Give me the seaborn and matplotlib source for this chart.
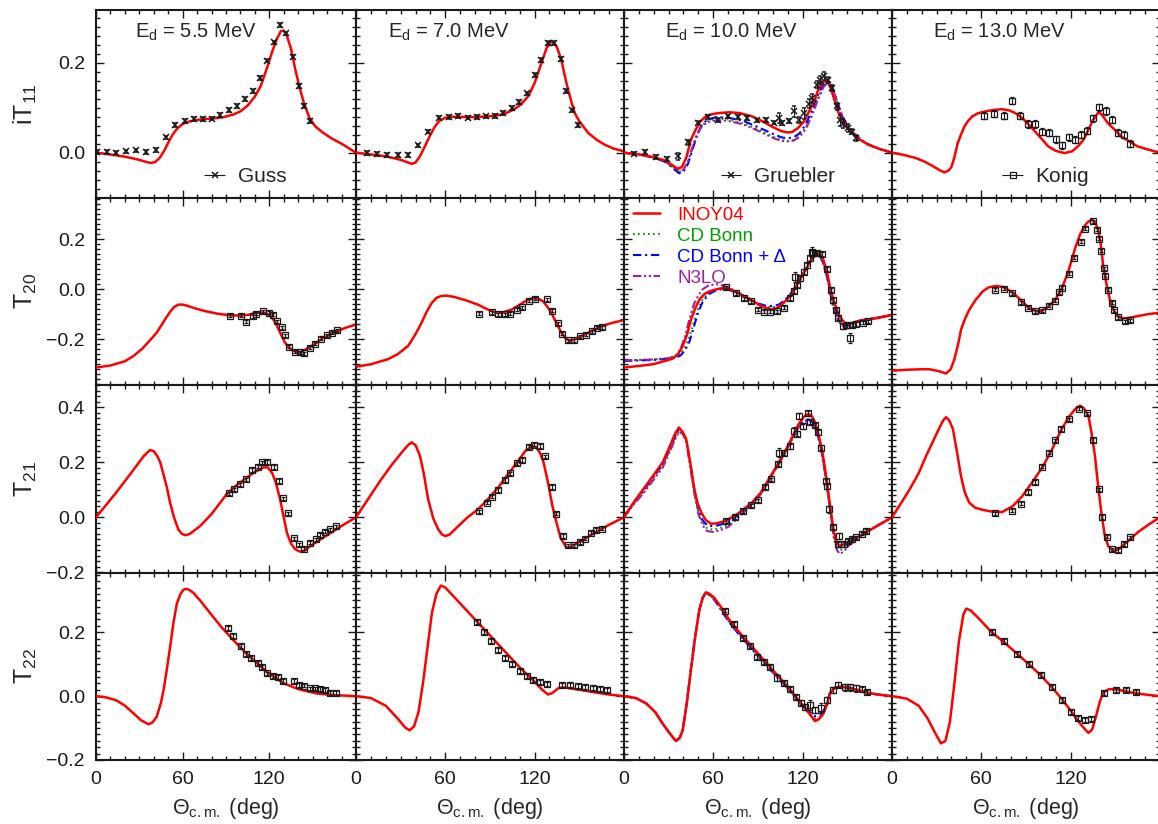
import numpy as np
import pandas as pd
import seaborn as sns
import matplotlib.pyplot as plt
from matplotlib.ticker import MultipleLocator

# ---------------- iT11 ----------------
it11_55_ang = [0, 10, 20, 30, 35, 38, 41, 44, 47, 50, 53, 56, 60, 65, 72, 80, 88, 95, 100, 105,
               110, 114, 118, 122, 125, 128, 130, 132, 135, 138, 141, 144, 148, 152, 157, 163, 170, 180]
it11_55_inoy = [0.0, -0.004, -0.009, -0.016, -0.021, -0.023, -0.021, -0.012, 0.003, 0.022, 0.040, 0.053,
                0.064, 0.070, 0.074, 0.076, 0.079, 0.085, 0.092, 0.105, 0.125, 0.148, 0.185, 0.225, 0.252,
                0.271, 0.272, 0.262, 0.232, 0.185, 0.145, 0.110, 0.076, 0.058, 0.045, 0.032, 0.020, 0.0]
it11_55_exp_ang = [0.5, 7.4, 13.9, 20.8, 27.7, 34.7, 41.4, 48.3, 54.8, 61.7, 68.0, 74.0, 80.2, 86.2,
                   92.0, 97.8, 103.3, 108.4, 113.5, 118.4, 123.0, 127.6, 131.8, 136.1, 140.3, 144.0, 148.4]
it11_55_exp_val = [0.001, 0.001, 0.0, 0.003, 0.005, 0.002, 0.006, 0.034, 0.061, 0.070, 0.075, 0.075, 0.076,
                   0.084, 0.095, 0.104, 0.119, 0.138, 0.166, 0.205, 0.246, 0.284, 0.266, 0.214, 0.149, 0.104, 0.070]
it11_55_exp_err = [0.004] * 27

it11_70_ang = [0, 10, 20, 30, 35, 37.5, 40, 43, 46, 50, 53, 56, 60, 65, 78, 90, 95, 100, 106, 111,
               116, 120, 124.5, 128, 131, 133, 135, 138, 140, 142.5, 145, 147, 150, 156, 162, 167, 173, 180]
it11_70_inoy = [0.0, -0.004, -0.008, -0.016, -0.022, -0.025, -0.022, -0.008, 0.012, 0.040, 0.058, 0.071,
                0.078, 0.080, 0.079, 0.081, 0.083, 0.087, 0.096, 0.108, 0.127, 0.155, 0.199, 0.233, 0.247,
                0.245, 0.235, 0.207, 0.175, 0.140, 0.110, 0.088, 0.070, 0.044, 0.028, 0.018, 0.009, 0.003]
it11_70_exp_ang = [7.2, 13.9, 21.0, 28.0, 34.9, 41.8, 48.5, 55.5, 62.4, 68.7, 75.0, 81.4, 87.2, 93.3,
                   98.9, 104.5, 109.6, 115.0, 120.1, 124.6, 129.1, 133.3, 137.6, 141.4, 145.2, 149.2]
it11_70_exp_val = [-0.001, -0.003, -0.005, -0.005, -0.005, 0.016, 0.047, 0.078, 0.080, 0.082, 0.078, 0.079,
                   0.081, 0.082, 0.088, 0.099, 0.113, 0.132, 0.173, 0.207, 0.244, 0.244, 0.209, 0.138, 0.094, 0.062]
it11_70_exp_err = [0.004] * 26

it11_100_ang = [0, 10, 20, 28, 33, 36, 39, 42, 45, 48, 51, 54, 57, 63, 71, 78, 86, 93, 99.5, 105,
                109.5, 113, 117, 121, 125, 128, 130.5, 133, 135, 137, 139, 141, 143, 145, 148, 153, 158, 164, 172, 180]
it11_100_inoy = [0.0, -0.004, -0.010, -0.018, -0.029, -0.036, -0.032, -0.010, 0.029, 0.050, 0.068, 0.078,
                 0.084, 0.088, 0.090, 0.088, 0.081, 0.070, 0.058, 0.049, 0.045, 0.046, 0.055, 0.070, 0.096,
                 0.117, 0.140, 0.155, 0.162, 0.158, 0.143, 0.122, 0.100, 0.081, 0.063, 0.044, 0.030, 0.018, 0.008, 0.0]
it11_100_alt_ang = [0, 10, 20, 28, 33, 37, 40, 43, 46, 49, 52, 56, 62, 70, 80, 90, 100, 106, 110, 114,
                    118, 122, 126, 130, 134, 137, 140, 143, 146, 150, 155, 162, 170, 180]
it11_100_cdb = [0.0, -0.004, -0.011, -0.020, -0.033, -0.043, -0.040, -0.022, 0.010, 0.040, 0.059, 0.071,
                0.075, 0.074, 0.066, 0.052, 0.036, 0.028, 0.026, 0.028, 0.037, 0.055, 0.085, 0.120, 0.150,
                0.158, 0.145, 0.115, 0.085, 0.060, 0.040, 0.022, 0.010, 0.0]
it11_100_cdbd = [0.0, -0.004, -0.011, -0.021, -0.035, -0.046, -0.043, -0.025, 0.006, 0.038, 0.060, 0.074,
                 0.079, 0.078, 0.071, 0.057, 0.042, 0.034, 0.032, 0.034, 0.043, 0.062, 0.092, 0.126, 0.153,
                 0.160, 0.147, 0.117, 0.087, 0.061, 0.041, 0.022, 0.010, 0.0]
it11_100_n3lo = [0.0, -0.004, -0.011, -0.020, -0.032, -0.041, -0.038, -0.020, 0.012, 0.040, 0.057, 0.068,
                 0.072, 0.071, 0.063, 0.049, 0.033, 0.026, 0.025, 0.027, 0.035, 0.052, 0.080, 0.115, 0.146,
                 0.156, 0.145, 0.116, 0.086, 0.060, 0.040, 0.022, 0.010, 0.0]
it11_100_exp_ang = [6.7, 14.0, 21.8, 28.9, 36.2, 42.9, 49.6, 56.2, 63.3, 70.2, 76.7, 82.9, 89.1, 95.1,
                    100.7, 104.4, 106.2, 111.1, 114.4, 117.3, 120.7, 124.0, 126.2, 129.6, 131.8, 134.7,
                    136.9, 139.6, 142.9, 145.1, 147.3, 150.2, 152.9, 156.2]
it11_100_exp_val = [-0.002, 0.001, -0.010, -0.014, -0.008, 0.023, 0.067, 0.079, 0.073, 0.081, 0.079, 0.077,
                    0.072, 0.073, 0.067, 0.077, 0.066, 0.070, 0.092, 0.073, 0.088, 0.109, 0.121, 0.151,
                    0.162, 0.171, 0.162, 0.144, 0.103, 0.072, 0.064, 0.055, 0.047, 0.033]
it11_100_exp_err = [0.004, 0.004, 0.004, 0.004, 0.008, 0.005, 0.004, 0.004, 0.005, 0.004, 0.004, 0.004,
                    0.004, 0.004, 0.004, 0.012, 0.005, 0.005, 0.012, 0.006, 0.012, 0.010, 0.010, 0.008,
                    0.008, 0.008, 0.006, 0.006, 0.008, 0.012, 0.010, 0.008, 0.006, 0.006]

it11_130_ang = [0, 8, 16, 22, 27.5, 32, 35.3, 38, 40, 42, 44.2, 46.5, 48.7, 51, 54, 58, 63, 68, 74, 79,
                83, 88, 94, 100, 105, 110, 116, 121, 125, 129, 132, 135, 138.7, 141, 145, 150, 154, 160, 165, 172, 180]
it11_130_inoy = [0.0, -0.005, -0.012, -0.020, -0.030, -0.039, -0.044, -0.040, -0.032, -0.010, 0.021, 0.041,
                 0.058, 0.070, 0.081, 0.088, 0.092, 0.095, 0.097, 0.094, 0.088, 0.076, 0.055, 0.033, 0.014,
                 0.004, -0.001, 0.003, 0.014, 0.030, 0.051, 0.072, 0.090, 0.085, 0.066, 0.050, 0.036, 0.024,
                 0.014, 0.007, 0.0]
it11_130_exp_ang = [62.0, 68.7, 75.3, 80.4, 86.0, 91.3, 95.8, 100.9, 105.3, 110.2, 114.2, 118.7, 122.7,
                    126.9, 131.3, 135.3, 139.1, 143.6, 148.0, 151.6, 155.8, 160.2]
it11_130_exp_val = [0.082, 0.087, 0.082, 0.116, 0.082, 0.064, 0.064, 0.047, 0.044, 0.030, 0.016, 0.034,
                    0.029, 0.040, 0.049, 0.077, 0.101, 0.093, 0.073, 0.044, 0.040, 0.020]
it11_130_exp_err = [0.008] * 22

# ---------------- T20 ----------------
t20_55_ang = [0, 10, 20, 26, 32, 37, 42, 46, 49, 51.5, 54, 57, 60, 63, 67.5, 75, 84, 92, 100, 106,
              110, 114, 117, 120.5, 124, 127.5, 130.5, 133.5, 137, 141.5, 146, 151, 157, 164.5, 172, 180]
t20_55_inoy = [-0.313, -0.305, -0.288, -0.267, -0.238, -0.207, -0.174, -0.138, -0.110, -0.089, -0.072,
               -0.062, -0.062, -0.066, -0.075, -0.087, -0.098, -0.104, -0.106, -0.102, -0.096, -0.093,
               -0.095, -0.106, -0.130, -0.174, -0.210, -0.234, -0.248, -0.253, -0.238, -0.221, -0.196,
               -0.174, -0.156, -0.141]
t20_55_exp_ang = [92.5, 100.3, 104.0, 108.4, 111.0, 115.3, 119.5, 122.5, 125.3, 129.0, 131.1, 133.8,
                  137.5, 141.5, 144.2, 148.4, 151.9, 155.8, 160.0, 163.7, 166.9]
t20_55_exp_val = [-0.106, -0.106, -0.131, -0.108, -0.099, -0.089, -0.095, -0.102, -0.128, -0.152, -0.184,
                  -0.231, -0.251, -0.253, -0.256, -0.235, -0.218, -0.198, -0.185, -0.174, -0.165]
t20_55_exp_err = [0.006] * 21

t20_70_ang = [0, 10, 21.5, 28, 35, 40, 44, 47.5, 51, 54, 57.5, 61, 66.5, 74, 82, 88, 93.5, 98, 104.5, 109,
              113.5, 117, 120, 123, 125.7, 128.5, 131.3, 135, 138, 141, 143.6, 147, 151.5, 158, 165, 172, 180]
t20_70_inoy = [-0.310, -0.300, -0.280, -0.260, -0.227, -0.180, -0.135, -0.090, -0.055, -0.035, -0.027,
               -0.026, -0.032, -0.045, -0.062, -0.080, -0.093, -0.094, -0.082, -0.066, -0.049, -0.039,
               -0.036, -0.040, -0.049, -0.070, -0.095, -0.140, -0.174, -0.198, -0.207, -0.200, -0.188,
               -0.168, -0.148, -0.135, -0.124]
t20_70_exp_ang = [82.8, 91.5, 95.7, 100.2, 103.8, 108.3, 111.6, 116.1, 120.1, 128.0, 132.0, 135.4, 138.7,
                  142.7, 146.5, 150.6, 154.4, 158.4, 162.2, 165.3]
t20_70_exp_val = [-0.099, -0.093, -0.100, -0.100, -0.098, -0.082, -0.073, -0.046, -0.038, -0.040, -0.086,
                  -0.137, -0.178, -0.204, -0.204, -0.188, -0.182, -0.169, -0.155, -0.152]
t20_70_exp_err = [0.006] * 20

t20_100_ang = [0, 10, 19.5, 27, 33, 36.5, 39.5, 42.5, 45, 48, 50.7, 54, 57.3, 62, 66, 71, 77, 84, 90.7, 95,
               99.5, 103, 106, 109.5, 113, 117, 122, 126, 129.6, 132, 134, 136.5, 138.4, 140.5, 143, 145.5,
               148.4, 152, 157, 164, 171, 180]
t20_100_inoy = [-0.313, -0.307, -0.300, -0.288, -0.277, -0.258, -0.227, -0.180, -0.122, -0.075, -0.042,
                -0.020, -0.009, -0.001, 0.004, 0.000, -0.016, -0.038, -0.062, -0.075, -0.082, -0.076,
                -0.062, -0.042, -0.016, 0.025, 0.076, 0.118, 0.143, 0.138, 0.116, 0.065, 0.010, -0.040,
                -0.082, -0.115, -0.135, -0.138, -0.128, -0.121, -0.115, -0.103]
t20_100_alt_ang = [0, 10, 20, 30, 35, 38, 41, 44, 47, 50, 53, 57, 62, 66, 71, 77, 84, 90, 95, 100,
                   104, 108, 112, 117, 122, 126, 129.5, 132, 134, 136.5, 138.5, 140.5, 143, 146, 149, 152,
                   157, 164, 171, 180]
t20_100_cdb = [-0.285, -0.283, -0.281, -0.276, -0.270, -0.258, -0.232, -0.190, -0.130, -0.075, -0.040,
               -0.015, -0.002, 0.002, -0.002, -0.018, -0.040, -0.060, -0.070, -0.073, -0.066, -0.047,
               -0.020, 0.025, 0.080, 0.120, 0.142, 0.132, 0.105, 0.050, -0.010, -0.065, -0.110, -0.140,
               -0.148, -0.140, -0.128, -0.120, -0.114, -0.103]
t20_100_cdbd = [-0.287, -0.285, -0.283, -0.278, -0.273, -0.265, -0.245, -0.210, -0.150, -0.090, -0.050,
                -0.020, -0.005, 0.000, -0.004, -0.018, -0.038, -0.057, -0.066, -0.068, -0.062, -0.044,
                -0.018, 0.026, 0.080, 0.118, 0.140, 0.130, 0.103, 0.048, -0.012, -0.066, -0.110, -0.138,
                -0.145, -0.138, -0.127, -0.119, -0.113, -0.103]
t20_100_n3lo = [-0.285, -0.283, -0.281, -0.276, -0.266, -0.240, -0.190, -0.120, -0.060, -0.025, 0.000,
                0.015, 0.020, 0.015, 0.005, -0.015, -0.040, -0.062, -0.073, -0.075, -0.068, -0.048,
                -0.020, 0.025, 0.080, 0.120, 0.140, 0.128, 0.100, 0.045, -0.015, -0.070, -0.115, -0.145,
                -0.152, -0.143, -0.130, -0.121, -0.114, -0.103]
t20_100_exp_ang = [68.9, 75.1, 80.7, 85.1, 90.0, 94.4, 98.4, 102.9, 107.3, 111.8, 114.0, 115.1, 116.2,
                   118.4, 120.7, 122.9, 125.1, 126.2, 127.3, 129.6, 132.9, 136.2, 138.9, 140.7, 142.2,
                   144.0, 147.3, 149.6, 151.8, 152.9, 156.2, 160.7, 164.0]
t20_100_exp_val = [0.008, -0.016, -0.036, -0.049, -0.082, -0.091, -0.091, -0.089, -0.075, -0.036, -0.009,
                   0.048, 0.017, 0.044, 0.070, 0.096, 0.123, 0.149, 0.143, 0.145, 0.140, 0.080, -0.003,
                   -0.042, -0.082, -0.115, -0.148, -0.145, -0.194, -0.145, -0.141, -0.135, -0.128]
t20_100_exp_err = [0.006, 0.006, 0.006, 0.006, 0.006, 0.006, 0.006, 0.006, 0.006, 0.008, 0.008, 0.020,
                   0.008, 0.010, 0.010, 0.010, 0.010, 0.020, 0.010, 0.008, 0.008, 0.008, 0.008, 0.008,
                   0.008, 0.010, 0.010, 0.010, 0.020, 0.008, 0.008, 0.006, 0.006]

t20_130_ang = [0, 10, 20, 25, 31, 36.4, 39.5, 42, 44.5, 46.5, 49, 52, 56, 61, 65, 70, 75, 81, 86, 92,
               97.5, 101, 105.3, 110, 114.2, 118.5, 123, 126.5, 129.8, 132, 134.7, 136.7, 138.7, 140.5,
               142, 144, 146.4, 149, 152, 155, 159, 165, 172, 180]
t20_130_inoy = [-0.326, -0.322, -0.320, -0.320, -0.327, -0.337, -0.320, -0.280, -0.220, -0.161, -0.120,
                -0.082, -0.045, -0.009, 0.007, 0.013, 0.008, -0.013, -0.040, -0.075, -0.089, -0.086,
                -0.069, -0.040, 0.004, 0.070, 0.162, 0.220, 0.255, 0.270, 0.277, 0.265, 0.235, 0.170,
                0.090, 0.025, -0.042, -0.085, -0.109, -0.117, -0.115, -0.108, -0.100, -0.094]
t20_130_exp_ang = [69.1, 75.3, 80.9, 86.4, 91.3, 95.8, 100.9, 105.8, 109.8, 112.4, 114.2, 118.7, 122.4,
                   127.1, 129.8, 135.1, 137.8, 139.1, 140.2, 142.4, 143.3, 145.3, 147.6, 149.1, 151.6,
                   156.4, 160.2]
t20_130_exp_val = [-0.003, 0.001, -0.016, -0.053, -0.075, -0.089, -0.085, -0.067, -0.046, -0.013, 0.006,
                   0.061, 0.125, 0.189, 0.242, 0.272, 0.238, 0.202, 0.153, 0.083, 0.054, -0.003, -0.055,
                   -0.085, -0.112, -0.128, -0.124]
t20_130_exp_err = [0.006] * 27

# ---------------- T21 ----------------
t21_55_ang = [0, 7, 14, 21, 28, 33, 37.4, 40, 42.5, 44.5, 47, 49, 51.3, 54, 57, 59.5, 62, 65, 72, 80,
              90.5, 97, 104.5, 110, 116, 119, 122, 124.5, 127.5, 130, 132.2, 135, 138, 141.5, 144, 148.5,
              156, 164.5, 172, 180]
t21_55_inoy = [0.0, 0.045, 0.090, 0.138, 0.187, 0.222, 0.244, 0.240, 0.222, 0.199, 0.150, 0.110, 0.053,
               0.000, -0.044, -0.060, -0.065, -0.060, -0.032, 0.012, 0.084, 0.115, 0.144, 0.165, 0.181,
               0.181, 0.160, 0.127, 0.065, 0.000, -0.056, -0.095, -0.116, -0.125, -0.122, -0.104, -0.078,
               -0.050, -0.025, 0.0]
t21_55_exp_ang = [92.2, 95.7, 99.9, 103.8, 108.0, 111.9, 115.1, 118.4, 123.0, 126.9, 129.5, 132.9, 137.3,
                  140.8, 144.2, 147.9, 152.1, 155.3, 158.8, 162.3, 166.2]
t21_55_exp_val = [0.087, 0.102, 0.120, 0.138, 0.172, 0.184, 0.199, 0.201, 0.183, 0.132, 0.069, 0.015,
                  -0.076, -0.098, -0.114, -0.092, -0.080, -0.064, -0.052, -0.044, -0.032]
t21_55_exp_err = [0.006] * 21

t21_70_ang = [0, 8, 17, 24, 30.7, 35, 37.4, 40, 43, 45.5, 48.5, 52, 55.3, 58, 60.2, 63, 68.7, 75, 82, 89,
              95.5, 102, 109, 114, 118, 121, 123.5, 126, 129, 132, 134.7, 137.5, 141.4, 144, 147, 153,
              160.5, 170, 180]
t21_70_inoy = [0.0, 0.065, 0.138, 0.190, 0.235, 0.262, 0.272, 0.262, 0.223, 0.160, 0.065, -0.005, -0.044,
               -0.063, -0.068, -0.062, -0.032, 0.000, 0.029, 0.068, 0.108, 0.155, 0.205, 0.242, 0.257,
               0.254, 0.235, 0.200, 0.126, 0.040, -0.019, -0.075, -0.110, -0.108, -0.098, -0.080, -0.056,
               -0.027, 0.0]
t21_70_exp_ang = [82.6, 87.7, 91.3, 95.1, 100.2, 103.6, 108.1, 111.2, 115.9, 119.7, 123.5, 127.1, 131.8,
                  134.7, 139.1, 142.7, 146.5, 150.3, 153.7, 157.7, 161.5, 165.3]
t21_70_exp_val = [0.022, 0.053, 0.075, 0.099, 0.135, 0.159, 0.196, 0.208, 0.255, 0.264, 0.259, 0.221,
                  0.110, 0.013, -0.068, -0.101, -0.101, -0.090, -0.077, -0.056, -0.046, -0.041]
t21_70_exp_err = [0.006] * 22

t21_100_ang = [0, 6, 13, 19.5, 26, 31, 34.5, 37, 39.3, 41.8, 44.5, 47.3, 49.5, 52, 55, 58.4, 62, 68.4, 77,
               86, 92, 97.3, 103, 108.4, 113, 117.3, 121, 124, 126.5, 128.4, 130.7, 133, 135, 137, 138.8,
               140.7, 142.5, 144.4, 147, 150.7, 157, 164, 172, 180]
t21_100_inoy = [0.0, 0.050, 0.102, 0.150, 0.199, 0.260, 0.305, 0.326, 0.310, 0.284, 0.200, 0.102, 0.050,
                0.017, -0.010, -0.023, -0.022, -0.013, 0.015, 0.053, 0.090, 0.138, 0.190, 0.241, 0.290,
                0.338, 0.365, 0.375, 0.365, 0.344, 0.300, 0.247, 0.180, 0.102, 0.030, -0.044, -0.085,
                -0.104, -0.100, -0.092, -0.072, -0.050, -0.025, 0.0]
t21_100_alt_ang = [0, 6, 13, 19.5, 26, 31, 34.5, 37, 39.5, 42, 44.5, 47.5, 50, 53, 56, 60, 64, 70, 77, 86,
                   92, 97.3, 103, 108.4, 113, 117.3, 121, 124, 126.5, 128.5, 131, 133, 135, 137, 139, 141,
                   143, 145, 147.5, 151, 157, 164, 172, 180]
t21_100_cdb = [0.0, 0.045, 0.092, 0.140, 0.188, 0.245, 0.290, 0.313, 0.305, 0.275, 0.190, 0.085, 0.020,
               -0.020, -0.040, -0.045, -0.040, -0.028, 0.005, 0.048, 0.086, 0.133, 0.185, 0.235, 0.283,
               0.328, 0.348, 0.352, 0.345, 0.326, 0.280, 0.230, 0.165, 0.085, 0.010, -0.065, -0.105,
               -0.120, -0.115, -0.098, -0.074, -0.050, -0.025, 0.0]
t21_100_cdbd = [0.0, 0.048, 0.097, 0.145, 0.193, 0.252, 0.296, 0.318, 0.308, 0.280, 0.200, 0.095, 0.030,
                -0.012, -0.030, -0.032, -0.028, -0.018, 0.010, 0.050, 0.088, 0.135, 0.187, 0.238, 0.287,
                0.333, 0.352, 0.355, 0.347, 0.328, 0.282, 0.232, 0.168, 0.090, 0.015, -0.058, -0.098,
                -0.110, -0.106, -0.094, -0.072, -0.050, -0.025, 0.0]
t21_100_n3lo = [0.0, 0.043, 0.087, 0.133, 0.180, 0.240, 0.285, 0.310, 0.303, 0.272, 0.185, 0.080, 0.012,
                -0.030, -0.050, -0.053, -0.048, -0.035, 0.000, 0.045, 0.084, 0.131, 0.183, 0.233, 0.282,
                0.326, 0.346, 0.350, 0.343, 0.325, 0.280, 0.230, 0.165, 0.085, 0.005, -0.075, -0.118,
                -0.133, -0.125, -0.103, -0.076, -0.051, -0.025, 0.0]
t21_100_exp_ang = [68.9, 74.7, 80.0, 85.1, 90.0, 94.7, 98.9, 103.6, 104.0, 107.6, 111.8, 114.4, 116.2,
                   117.3, 120.0, 123.6, 124.7, 128.2, 130.2, 132.4, 135.6, 136.4, 137.8, 140.2, 144.2,
                   144.0, 148.0, 150.7, 152.9, 156.2, 159.6, 162.9]
t21_100_exp_val = [-0.013, 0.001, 0.023, 0.044, 0.062, 0.110, 0.138, 0.193, 0.235, 0.235, 0.257, 0.314,
                   0.304, 0.368, 0.330, 0.377, 0.347, 0.335, 0.308, 0.253, 0.132, 0.112, 0.029, -0.035,
                   -0.068, -0.098, -0.098, -0.086, -0.080, -0.072, -0.059, -0.050]
t21_100_exp_err = [0.006, 0.006, 0.006, 0.006, 0.006, 0.006, 0.006, 0.006, 0.015, 0.008, 0.008, 0.012,
                   0.008, 0.010, 0.008, 0.010, 0.008, 0.008, 0.010, 0.008, 0.008, 0.008, 0.012, 0.008,
                   0.012, 0.008, 0.008, 0.008, 0.008, 0.006, 0.006, 0.006]

t21_130_ang = [0, 6, 12, 18, 23, 28, 32, 34.5, 36.4, 38.5, 41, 43.5, 46.4, 49, 52, 56, 61, 67, 74, 81,
               87.6, 94, 101, 107, 114, 119, 123, 126.4, 129, 132, 134, 136.4, 138.5, 141, 143, 145.3,
               148.7, 152, 158.7, 165, 172, 180]
t21_130_inoy = [0.0, 0.050, 0.102, 0.160, 0.223, 0.280, 0.326, 0.352, 0.363, 0.352, 0.320, 0.245, 0.150,
                0.090, 0.053, 0.035, 0.027, 0.021, 0.019, 0.040, 0.077, 0.125, 0.181, 0.240, 0.320, 0.365,
                0.392, 0.405, 0.395, 0.368, 0.310, 0.223, 0.115, 0.005, -0.065, -0.104, -0.122, -0.117,
                -0.086, -0.055, -0.028, 0.0]
t21_130_exp_ang = [69.1, 80.4, 86.4, 91.3, 95.8, 100.9, 105.3, 109.8, 113.8, 118.7, 125.8, 131.3, 135.1,
                   139.1, 141.3, 144.4, 147.6, 151.6, 155.8, 159.8]
t21_130_exp_val = [0.015, 0.024, 0.050, 0.092, 0.128, 0.184, 0.235, 0.279, 0.320, 0.356, 0.394, 0.377,
                   0.280, 0.102, 0.001, -0.070, -0.116, -0.119, -0.097, -0.073]
t21_130_exp_err = [0.006] * 20

# ---------------- T22 ----------------
t22_55_ang = [0, 7, 14, 20, 26, 31, 36.3, 39, 42, 45, 47, 49, 51.5, 53.6, 56, 58.3, 60.5, 62.4, 64.5, 67.5,
              72, 79, 87, 95, 103, 111.5, 120, 130, 140, 153, 165, 180]
t22_55_inoy = [0.0, -0.004, -0.013, -0.030, -0.054, -0.075, -0.088, -0.083, -0.065, -0.020, 0.025, 0.082,
               0.160, 0.229, 0.290, 0.318, 0.333, 0.336, 0.333, 0.323, 0.300, 0.260, 0.215, 0.176, 0.138,
               0.103, 0.070, 0.040, 0.022, 0.008, 0.003, 0.0]
t22_55_exp_ang = [91.3, 95.2, 100.3, 103.6, 107.2, 111.9, 114.9, 118.4, 122.3, 126.0, 129.5, 136.8, 140.8,
                  144.2, 148.4, 151.4, 154.9, 158.8, 162.3, 166.2]
t22_55_exp_val = [0.212, 0.187, 0.157, 0.132, 0.119, 0.103, 0.090, 0.071, 0.063, 0.061, 0.047, 0.047,
                  0.035, 0.033, 0.024, 0.024, 0.021, 0.019, 0.010, 0.010]
t22_55_exp_err = [0.006] * 20

t22_70_ang = [0, 10, 20, 28, 33, 36, 39, 42, 45, 48, 51, 54, 57, 60, 65, 70, 80, 90, 100, 110,
              120, 125, 129, 132, 136, 140, 150, 160, 170, 180]
t22_70_inoy = [0.0, -0.006, -0.030, -0.070, -0.098, -0.107, -0.095, -0.050, 0.040, 0.150, 0.260, 0.320,
               0.346, 0.340, 0.315, 0.290, 0.240, 0.190, 0.140, 0.090, 0.045, 0.020, 0.005, 0.010, 0.025,
               0.027, 0.020, 0.012, 0.005, 0.0]
t22_70_exp_ang = [81.2, 85.9, 90.6, 95.3, 100.0, 104.7, 110.0, 114.8, 118.8, 123.5, 128.2, 138.3, 143.6,
                  149.0, 153.7, 159.0, 163.8, 168.5]
t22_70_exp_val = [0.233, 0.202, 0.173, 0.145, 0.120, 0.101, 0.079, 0.063, 0.050, 0.044, 0.038, 0.035,
                  0.035, 0.032, 0.028, 0.025, 0.022, 0.019]
t22_70_exp_err = [0.006] * 18

t22_100_ang = [0, 8, 15, 21, 26, 31, 35, 37.5, 39.5, 42.3, 45, 48, 50.7, 53, 55, 57.5, 60.7, 65, 70.7, 78,
               86, 94, 102, 110, 117.3, 123, 128.4, 131, 134, 136.5, 138.4, 141, 144, 148, 153, 158, 164,
               172, 180]
t22_100_inoy = [0.0, -0.006, -0.023, -0.050, -0.086, -0.118, -0.141, -0.130, -0.107, -0.020, 0.082, 0.190,
                0.271, 0.310, 0.325, 0.320, 0.308, 0.280, 0.239, 0.197, 0.155, 0.113, 0.071, 0.030, -0.013,
                -0.045, -0.078, -0.072, -0.055, -0.025, 0.009, 0.024, 0.029, 0.028, 0.024, 0.018, 0.010,
                0.004, 0.0]
t22_100_alt_ang = t22_100_ang
t22_100_cdb = [0.0, -0.006, -0.023, -0.050, -0.086, -0.118, -0.140, -0.130, -0.105, -0.018, 0.085, 0.192,
               0.270, 0.308, 0.322, 0.316, 0.302, 0.272, 0.231, 0.189, 0.147, 0.105, 0.063, 0.023, -0.018,
               -0.046, -0.070, -0.066, -0.050, -0.022, 0.010, 0.024, 0.029, 0.028, 0.024, 0.018, 0.010,
               0.004, 0.0]
t22_100_cdbd = [0.0, -0.006, -0.023, -0.050, -0.086, -0.118, -0.140, -0.130, -0.105, -0.018, 0.085, 0.192,
                0.270, 0.308, 0.322, 0.316, 0.302, 0.272, 0.231, 0.189, 0.147, 0.106, 0.064, 0.025, -0.015,
                -0.042, -0.063, -0.060, -0.047, -0.020, 0.011, 0.025, 0.030, 0.028, 0.024, 0.018, 0.010,
                0.004, 0.0]
t22_100_n3lo = [0.0, -0.006, -0.023, -0.050, -0.086, -0.118, -0.141, -0.130, -0.106, -0.018, 0.085, 0.193,
                0.272, 0.311, 0.326, 0.320, 0.305, 0.276, 0.234, 0.192, 0.150, 0.108, 0.066, 0.025, -0.017,
                -0.048, -0.078, -0.072, -0.054, -0.024, 0.010, 0.024, 0.029, 0.028, 0.024, 0.018, 0.010,
                0.004, 0.0]
t22_100_exp_ang = [68.0, 74.2, 80.0, 84.7, 89.1, 94.4, 98.4, 102.9, 107.3, 111.8, 115.8, 118.7, 121.8,
                   124.7, 128.4, 132.4, 136.2, 140.2, 144.0, 148.4, 151.8, 155.6, 160.2, 163.6]
t22_100_exp_val = [0.268, 0.227, 0.183, 0.156, 0.122, 0.106, 0.092, 0.058, 0.040, 0.021, -0.002, -0.021,
                   -0.034, -0.028, -0.044, -0.036, -0.013, 0.019, 0.035, 0.027, 0.027, 0.024, 0.021, 0.014]
t22_100_exp_err = [0.006, 0.006, 0.006, 0.006, 0.006, 0.006, 0.006, 0.012, 0.006, 0.006, 0.006, 0.008,
                   0.008, 0.015, 0.010, 0.015, 0.010, 0.010, 0.008, 0.012, 0.012, 0.012, 0.008, 0.006]

t22_130_ang = [0, 10, 18, 24, 29, 33, 36, 39, 42, 45, 48, 50, 53, 58, 67, 75, 84, 92, 100, 107,
               114, 120, 125, 129, 132, 134.5, 137, 139.5, 142, 146, 152, 160, 170, 180]
t22_130_inoy = [0.0, -0.008, -0.030, -0.070, -0.115, -0.148, -0.140, -0.080, 0.040, 0.170, 0.255, 0.274,
                0.268, 0.245, 0.200, 0.170, 0.133, 0.100, 0.065, 0.030, -0.008, -0.045, -0.078, -0.100,
                -0.115, -0.105, -0.065, -0.020, 0.012, 0.022, 0.020, 0.012, 0.005, 0.0]
t22_130_exp_ang = [67.3, 75.3, 84.0, 92.0, 100.0, 107.3, 114.0, 120.0, 125.3, 130.0, 134.0, 142.7, 150.7,
                   157.3, 164.0]
t22_130_exp_val = [0.200, 0.173, 0.132, 0.100, 0.066, 0.028, -0.013, -0.050, -0.069, -0.076, -0.072,
                   0.009, 0.019, 0.019, 0.013]
t22_130_exp_err = [0.006] * 15

energies = ['5.5', '7.0', '10.0', '13.0']
obs_labels = ['iT$_{11}$', 'T$_{20}$', 'T$_{21}$', 'T$_{22}$']
exp_names = ['Guss', None, 'Gruebler', 'Konig']
model_names = ['INOY04', 'CD Bonn', 'CD Bonn + Δ', 'N3LO']

inoy = [
    [(it11_55_ang, it11_55_inoy), (it11_70_ang, it11_70_inoy), (it11_100_ang, it11_100_inoy), (it11_130_ang, it11_130_inoy)],
    [(t20_55_ang, t20_55_inoy), (t20_70_ang, t20_70_inoy), (t20_100_ang, t20_100_inoy), (t20_130_ang, t20_130_inoy)],
    [(t21_55_ang, t21_55_inoy), (t21_70_ang, t21_70_inoy), (t21_100_ang, t21_100_inoy), (t21_130_ang, t21_130_inoy)],
    [(t22_55_ang, t22_55_inoy), (t22_70_ang, t22_70_inoy), (t22_100_ang, t22_100_inoy), (t22_130_ang, t22_130_inoy)],
]
alt_10 = [
    (it11_100_alt_ang, it11_100_cdb, it11_100_cdbd, it11_100_n3lo),
    (t20_100_alt_ang, t20_100_cdb, t20_100_cdbd, t20_100_n3lo),
    (t21_100_alt_ang, t21_100_cdb, t21_100_cdbd, t21_100_n3lo),
    (t22_100_alt_ang, t22_100_cdb, t22_100_cdbd, t22_100_n3lo),
]
exp = [
    [(it11_55_exp_ang, it11_55_exp_val, it11_55_exp_err), (it11_70_exp_ang, it11_70_exp_val, it11_70_exp_err),
     (it11_100_exp_ang, it11_100_exp_val, it11_100_exp_err), (it11_130_exp_ang, it11_130_exp_val, it11_130_exp_err)],
    [(t20_55_exp_ang, t20_55_exp_val, t20_55_exp_err), (t20_70_exp_ang, t20_70_exp_val, t20_70_exp_err),
     (t20_100_exp_ang, t20_100_exp_val, t20_100_exp_err), (t20_130_exp_ang, t20_130_exp_val, t20_130_exp_err)],
    [(t21_55_exp_ang, t21_55_exp_val, t21_55_exp_err), (t21_70_exp_ang, t21_70_exp_val, t21_70_exp_err),
     (t21_100_exp_ang, t21_100_exp_val, t21_100_exp_err), (t21_130_exp_ang, t21_130_exp_val, t21_130_exp_err)],
    [(t22_55_exp_ang, t22_55_exp_val, t22_55_exp_err), (t22_70_exp_ang, t22_70_exp_val, t22_70_exp_err),
     (t22_100_exp_ang, t22_100_exp_val, t22_100_exp_err), (t22_130_exp_ang, t22_130_exp_val, t22_130_exp_err)],
]

ylims = [(-0.1, 0.318), (-0.383, 0.366), (-0.2001, 0.48), (-0.2, 0.387)]

sns.set_theme(style='ticks')
plt.rcParams['font.family'] = ['Liberation Sans', 'DejaVu Sans']
plt.rcParams['mathtext.fontset'] = 'custom'
plt.rcParams['mathtext.rm'] = 'Liberation Sans'
plt.rcParams['mathtext.it'] = 'Liberation Sans:italic'
plt.rcParams['mathtext.default'] = 'regular'

fig, axes = plt.subplots(4, 4, figsize=(11.58, 8.24), dpi=100,
                         gridspec_kw={'width_ratios': [260, 268, 268, 268]})
fig.subplots_adjust(left=96 / 1158, right=1.0016, top=1 - 10 / 824, bottom=1 - 760 / 824,
                    wspace=0, hspace=0)

alt_styles = [('#00a000', (0, (0.8, 1.6))),
              ('#0000ff', (0, (4, 1.8, 1, 1.8))),
              ('#a020a0', (0, (4, 1.3, 1, 1.3, 1, 1.3)))]
text_x = [0.15, 0.12, 0.155, 0.155]

for r in range(4):
    for c in range(4):
        ax = axes[r, c]
        handles = []
        if c == 2:
            a_ang = alt_10[r][0]
            for k, (col, ls) in enumerate(alt_styles):
                sns.lineplot(x=a_ang, y=alt_10[r][k + 1], ax=ax, color=col, linewidth=1.5,
                             linestyle=ls, estimator=None, sort=False, zorder=2)
                handles.append(ax.lines[-1])
        ang, val = inoy[r][c]
        sns.lineplot(x=ang, y=val, ax=ax, color='#ff0000', linewidth=1.8,
                     estimator=None, sort=False, zorder=3)
        handles.insert(0, ax.lines[-1])

        ea, ev, ee = exp[r][c]
        mk = 'x' if (r == 0 and c < 3) else 's'
        ms = 4.2 if mk == 'x' else 4.5
        mw = 1.1 if mk == 'x' else 0.9
        ax.errorbar(ea, ev, yerr=ee, fmt=mk, ms=ms, mfc='none', mec='k', mew=mw,
                    ecolor='k', elinewidth=0.8, capsize=1.5, capthick=0.8, zorder=4)

        ax.set_xlim(0, 180)
        ax.set_ylim(*ylims[r])
        ax.set_xticks([0, 60, 120, 180])
        ax.xaxis.set_minor_locator(MultipleLocator(10))
        ax.yaxis.set_major_locator(MultipleLocator(0.2))
        ax.yaxis.set_minor_locator(MultipleLocator(0.02))
        ax.tick_params(which='both', direction='in', top=True, right=True, width=1.0,
                       colors='k', labelsize=14)
        ax.tick_params(which='major', length=6, pad=8)
        ax.tick_params(which='minor', length=3)
        for s in ax.spines.values():
            s.set_linewidth(1.5)
            s.set_color('k')
        ax.set_xlabel('')
        ax.set_ylabel('')

        if c == 0:
            ax.set_ylabel(obs_labels[r], fontsize=18, ha='center', va='center')
            ax.yaxis.set_label_coords(-0.27, 0.5)
        else:
            ax.tick_params(labelleft=False)
        if r == 3:
            ax.set_xticklabels(['0', '60', '120', ''])
            ax.set_xlabel('Θ$_{\\rm c.m.}$ (deg)', fontsize=15.5, labelpad=6)
        else:
            ax.tick_params(labelbottom=False)

        if r == 0:
            ax.text(text_x[c], 0.88, 'E$_{\\rm d}$ = ' + energies[c] + ' MeV', transform=ax.transAxes,
                    fontsize=14.5, ha='left', va='center')
            if exp_names[c] is not None:
                h = ax.errorbar([], [], xerr=[], fmt=mk, ms=ms, mfc='none', mec='k', mew=mw,
                                ecolor='k', elinewidth=0.8, capsize=3, capthick=0.8)
                ax.legend([h], [exp_names[c]], loc='center', bbox_to_anchor=(0.57, 0.11),
                          frameon=False, fontsize=15, handlelength=1.2, handletextpad=0.5)
        if r == 1 and c == 2:
            ax.legend(handles, model_names, loc='upper left', frameon=False, fontsize=13.5,
                      handlelength=1.4, handletextpad=0.95, labelspacing=0.2, borderaxespad=0.4,
                      borderpad=0.1, labelcolor='linecolor')

fig.savefig('out.png', dpi=100)
